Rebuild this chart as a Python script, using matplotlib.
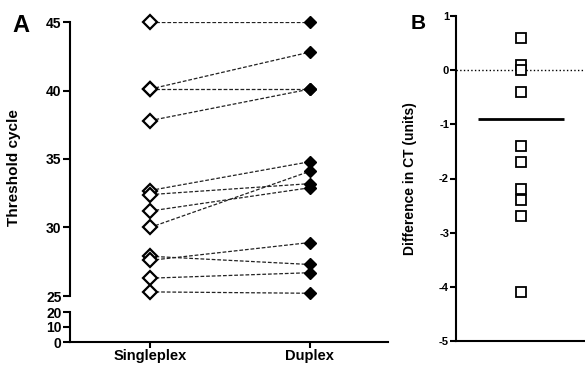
import matplotlib
matplotlib.use("Agg")
import matplotlib.pyplot as plt

plt.rcParams['font.family'] = ['Liberation Sans', 'DejaVu Sans']
plt.rcParams['font.weight'] = 'bold'

# Panel A: paired threshold cycles
singleplex = [45.0, 40.1, 40.1, 37.8, 32.7, 32.4, 31.2, 30.0, 27.9, 27.6, 26.3, 25.3]
duplex = [45.0, 42.8, 40.1, 40.1, 34.8, 33.2, 32.9, 34.1, 27.3, 28.9, 26.7, 25.2]
groups = ["Singleplex", "Duplex"]
upper_ticks = [25, 30, 35, 40, 45]
lower_ticks = [0, 10, 20]

# Panel B: differences
diff_ct = [0.6, 0.1, 0.0, -0.4, -1.4, -1.7, -2.2, -2.4, -2.7, -4.1]
diff_mean = -0.9
b_ticks = [1, 0, -1, -2, -3, -4, -5]

W, H = 585, 365
fig = plt.figure(figsize=(W / 100, H / 100), dpi=100)


def box(x0, y0, x1, y1):
    # pixel box (top-left origin) -> figure fraction
    return [x0 / W, (H - y1) / H, (x1 - x0) / W, (y1 - y0) / H]


ax_up = fig.add_axes(box(70, 22, 388, 296))
ax_lo = fig.add_axes(box(70, 312, 388, 342))
ax_b = fig.add_axes(box(456, 16, 585, 341))

xl = (-0.5, 1.49)
for s, d in zip(singleplex, duplex):
    ax_up.plot([0, 1], [s, d], ls=(0, (3, 1.5)), color='#222222', lw=0.9, zorder=1)
ax_up.plot([0] * len(singleplex), singleplex, 'D', ms=7, mfc='white', mec='black',
           mew=1.6, ls='none', zorder=3, clip_on=False)
ax_up.plot([1] * len(duplex), duplex, 'D', ms=6.5, mfc='black', mec='black',
           ls='none', zorder=3, clip_on=False)
ax_up.set_xlim(*xl)
ax_up.set_ylim(25, 45)
ax_up.set_yticks(upper_ticks)
ax_up.set_xticks([])
for sp in ['top', 'right', 'bottom']:
    ax_up.spines[sp].set_visible(False)
ax_up.set_ylabel("Threshold cycle", fontsize=11, fontweight='bold')
ax_up.yaxis.set_label_coords(-0.155, 0.47)

ax_lo.set_xlim(*xl)
ax_lo.set_ylim(0, 20)
ax_lo.set_yticks(lower_ticks)
ax_lo.set_xticks([0, 1])
ax_lo.set_xticklabels(groups, fontsize=10.5, fontweight='bold')
for sp in ['top', 'right']:
    ax_lo.spines[sp].set_visible(False)

for ax in (ax_up, ax_lo):
    ax.spines['left'].set_linewidth(1.5)
    ax.spines['bottom'].set_linewidth(1.5)
    ax.tick_params(axis='y', labelsize=10, width=1.5, length=5, pad=1)
    ax.tick_params(axis='x', width=1.5, length=4, pad=1)
    ax.patch.set_visible(False)
for lab in ax_up.get_yticklabels() + ax_lo.get_yticklabels():
    lab.set_fontweight('bold')

# Panel B
ax_b.axhline(0, ls=':', color='black', lw=1)
ax_b.plot([0] * len(diff_ct), diff_ct, 's', ms=7, mfc='white', mec='black',
          mew=1.3, ls='none', zorder=3)
ax_b.hlines(diff_mean, -0.66, 0.67, color='black', lw=2)
ax_b.set_xlim(-1, 1)
ax_b.set_ylim(-5, 1)
ax_b.set_yticks(b_ticks)
ax_b.set_yticklabels([str(t) for t in b_ticks], fontweight='bold')
ax_b.set_xticks([])
for sp in ['top', 'right']:
    ax_b.spines[sp].set_visible(False)
ax_b.spines['left'].set_linewidth(1.5)
ax_b.spines['bottom'].set_linewidth(1.5)
ax_b.tick_params(axis='y', labelsize=8, width=1.5, length=4, pad=1)
ax_b.set_ylabel("Difference in CT (units)", fontsize=10, fontweight='bold')
ax_b.yaxis.set_label_coords(-0.3, 0.5)

fig.text(12 / W, 1 - 32 / H, "A", fontsize=17, fontweight='bold')
fig.text(411 / W, 1 - 29 / H, "B", fontsize=15, fontweight='bold')

fig.savefig("out.png", dpi=100)
